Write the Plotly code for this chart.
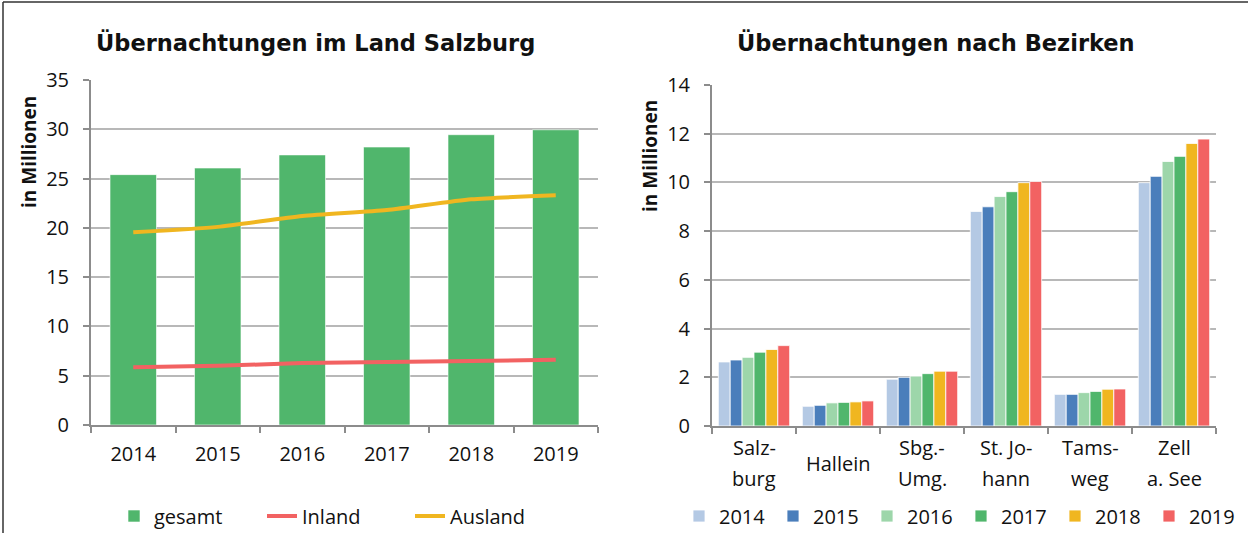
import plotly.graph_objects as go

# --- Übernachtungen im Land Salzburg (Mio.) ---
years = ["2014", "2015", "2016", "2017", "2018", "2019"]
gesamt = [25.4, 26.07, 27.4, 28.2, 29.45, 29.95]
inland = [5.85, 6.0, 6.28, 6.38, 6.5, 6.62]
ausland = [19.55, 20.1, 21.2, 21.8, 22.9, 23.3]

# --- Übernachtungen nach Bezirken (Mio.) ---
bezirke = ["Salzburg", "Hallein", "Sbg.-Umg.", "St. Johann", "Tamsweg", "Zell a. See"]
bezirk_labels = [["Salz-", "burg"], ["Hallein"], ["Sbg.-", "Umg."],
                 ["St. Jo-", "hann"], ["Tams-", "weg"], ["Zell", "a. See"]]
b2014 = [2.63, 0.81, 1.92, 8.81, 1.30, 9.99]
b2015 = [2.71, 0.85, 2.00, 9.00, 1.30, 10.25]
b2016 = [2.82, 0.95, 2.05, 9.42, 1.37, 10.86]
b2017 = [3.03, 0.97, 2.15, 9.62, 1.42, 11.07]
b2018 = [3.14, 0.99, 2.25, 9.99, 1.51, 11.60]
b2019 = [3.30, 1.03, 2.25, 10.04, 1.52, 11.78]

GREEN = "#50b66c"
RED = "#f26262"
YELLOW = "#f0b620"
year_colors = ["#b4c9e4", "#4a7ebb", "#9dd6aa", "#50b66c", "#f0b620", "#f26262"]

W, H = 1248, 533
TICK_FONT = dict(family="Open Sans", size=20, color="#111111")
BOLD_FONT = "DejaVu Sans"
AXIS_COL = "#8c8c8c"
GRID_COL = "#b8b8b8"


def px_x(v):
    return v / W


def px_y(v):
    return 1 - v / H


fig = go.Figure()

fig.add_trace(go.Bar(
    x=years, y=gesamt, name="gesamt", width=0.55,
    marker=dict(color=GREEN, line=dict(color="rgba(255,255,255,0.6)", width=1)),
    xaxis="x", yaxis="y", legend="legend",
))
fig.add_trace(go.Scatter(
    x=years, y=inland, name="Inland", mode="lines",
    line=dict(color=RED, width=4, shape="spline", smoothing=0.6),
    xaxis="x", yaxis="y", legend="legend",
))
fig.add_trace(go.Scatter(
    x=years, y=ausland, name="Ausland", mode="lines",
    line=dict(color=YELLOW, width=4, shape="spline", smoothing=0.6),
    xaxis="x", yaxis="y", legend="legend",
))

for yr, vals, col in zip(years, [b2014, b2015, b2016, b2017, b2018, b2019], year_colors):
    fig.add_trace(go.Bar(
        x=bezirke, y=vals, name=yr,
        marker=dict(color=col, line=dict(color="rgba(255,255,255,0.8)", width=1)),
        xaxis="x2", yaxis="y2", legend="legend2",
    ))

axis_common = dict(showline=True, linecolor=AXIS_COL, linewidth=2,
                   ticks="outside", tickcolor=AXIS_COL, ticklen=6, tickwidth=2)


def label(text, x, y, font, **kw):
    return dict(text=text, x=x, y=y, xref=kw.pop("xref", "paper"), yref="paper",
                xanchor="center", yanchor="middle", showarrow=False, font=font, **kw)


title_font = dict(family=BOLD_FONT, size=22.5, color="#111111")
ytitle_font = dict(family="Open Sans", size=19, color="#111111")

annotations = [
    label("<b>Übernachtungen im Land Salzburg</b>", px_x(315), px_y(42), title_font),
    label("<b>Übernachtungen nach Bezirken</b>", px_x(936), px_y(42), title_font),
    label("<b>in Millionen</b>", px_x(29), px_y(152), ytitle_font, textangle=-90),
    label("<b>in Millionen</b>", px_x(650), px_y(156), ytitle_font, textangle=-90),
]

# District names below the right chart, one or two lines each
for cat, lines in zip(bezirke, bezirk_labels):
    if len(lines) == 1:
        rows = [(lines[0], 463)]
    else:
        rows = [(lines[0], 447), (lines[1], 478)]
    for txt, yy in rows:
        annotations.append(label(txt, cat, px_y(yy), TICK_FONT, xref="x2"))

fig.update_layout(
    width=W, height=H,
    margin=dict(l=0, r=0, t=0, b=0, autoexpand=False),
    paper_bgcolor="white", plot_bgcolor="white",
    barmode="group", bargap=0.15, bargroupgap=0,
    xaxis=dict(domain=[px_x(91), px_x(598)], anchor="y", type="category",
               tickson="boundaries", tickfont=TICK_FONT, ticklabelstandoff=10,
               showgrid=False, **axis_common),
    yaxis=dict(domain=[1 - 425 / H, 1 - 80 / H], anchor="x", range=[0, 35], dtick=5,
               showgrid=True, gridcolor=GRID_COL, gridwidth=2, zeroline=False,
               tickfont=TICK_FONT, ticklabelstandoff=10, **axis_common),
    xaxis2=dict(domain=[px_x(712), px_x(1216)], anchor="y2", type="category",
                tickson="boundaries", showticklabels=False, showgrid=False,
                **axis_common),
    yaxis2=dict(domain=[1 - 426 / H, 1 - 85 / H], anchor="x2", range=[0, 14], dtick=2,
                showgrid=True, gridcolor=GRID_COL, gridwidth=2, zeroline=False,
                tickfont=TICK_FONT, ticklabelstandoff=10, **axis_common),
    legend=dict(orientation="h", x=px_x(114), xanchor="left", y=px_y(516), yanchor="middle",
                font=TICK_FONT, entrywidth=103, bgcolor="rgba(0,0,0,0)"),
    legend2=dict(orientation="h", x=px_x(679), xanchor="left", y=px_y(516), yanchor="middle",
                 font=TICK_FONT, entrywidth=49, bgcolor="rgba(0,0,0,0)"),
    annotations=annotations,
    shapes=[
        dict(type="line", xref="paper", yref="paper", x0=px_x(3), x1=1, y0=px_y(2), y1=px_y(2),
             line=dict(color="#333333", width=1.5)),
        dict(type="line", xref="paper", yref="paper", x0=px_x(3), x1=px_x(3), y0=px_y(2), y1=0,
             line=dict(color="#333333", width=1.5)),
    ],
    showlegend=True,
)

fig.write_html("out.html")
